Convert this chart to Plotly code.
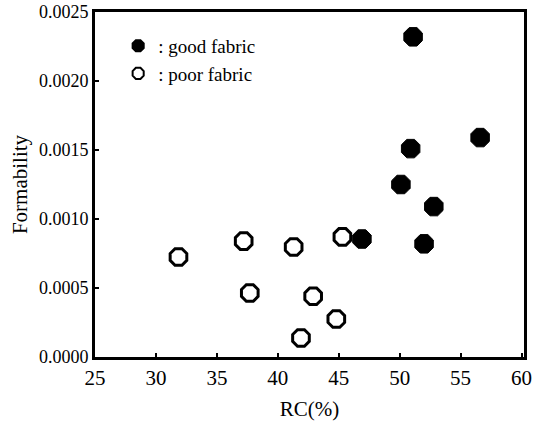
import plotly.graph_objects as go

good_rc = [51.1, 56.6, 50.9, 50.1, 52.8, 46.9, 52.0]
good_form = [0.00232, 0.00159, 0.00151, 0.00125, 0.00109, 0.000855, 0.00082]
poor_rc = [31.85, 37.2, 37.7, 41.3, 45.3, 42.9, 44.8, 41.9]
poor_form = [0.000725, 0.00084, 0.000464, 0.000797, 0.00087, 0.00044, 0.000275, 0.000138]
x_ticks = [25, 30, 35, 40, 45, 50, 55, 60]
y_ticks = [0.0, 0.0005, 0.0010, 0.0015, 0.0020, 0.0025]

font = "Liberation Serif, Times New Roman, DejaVu Serif, serif"
fig = go.Figure()
fig.add_trace(go.Scatter(x=good_rc, y=good_form, mode="markers", name=": good fabric",
                         marker=dict(symbol="octagon", size=20, color="black",
                                     line=dict(color="black", width=1))))
fig.add_trace(go.Scatter(x=poor_rc, y=poor_form, mode="markers", name=": poor fabric",
                         marker=dict(symbol="octagon-open", size=18, color="black",
                                     line=dict(color="black", width=3))))

axis_common = dict(showline=True, linecolor="black", linewidth=3, mirror=True,
                   ticks="inside", ticklen=4, tickcolor="black", tickwidth=2,
                   showgrid=False, zeroline=False, automargin=False)
fig.update_layout(
    width=534, height=421,
    margin=dict(l=95, r=10, t=12, b=64),
    plot_bgcolor="white", paper_bgcolor="white",
    font=dict(family=font, color="black"),
    xaxis=dict(range=[25, 60.2], tickvals=x_ticks,
               tickfont=dict(family=font, size=21, color="black"),
               title=dict(text="RC(%)", font=dict(family=font, size=21), standoff=13),
               **axis_common),
    yaxis=dict(range=[0, 0.0025], tickvals=y_ticks, tickformat=".4f",
               tickfont=dict(family=font, size=18, color="black"),
               title=dict(text="Formability", font=dict(family=font, size=21), standoff=6),
               **axis_common),
    legend=dict(x=0.054, y=0.957, xanchor="left", yanchor="top",
                bgcolor="rgba(0,0,0,0)", font=dict(family=font, size=19),
                itemsizing="constant", tracegroupgap=0, itemwidth=30),
    showlegend=True,
)
fig.write_html("out.html", config={"displayModeBar": False},
               post_script="document.body.style.margin='0';document.body.style.overflow='hidden';")
